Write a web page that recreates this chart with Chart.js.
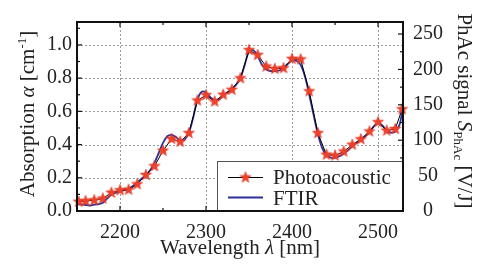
<!DOCTYPE html>
<html lang="en">
<head>
<meta charset="UTF-8" />
<title>Photoacoustic vs FTIR absorption</title>
<script src="https://cdn.jsdelivr.net/npm/chart.js"></script>
<style>
  html, body { margin: 0; padding: 0; background: #fff; }
  #wrap { width: 478px; height: 270px; }
</style>
</head>
<body>
<div id="wrap"><canvas id="spec" width="478" height="270"></canvas></div>
<script>
  // photoacoustic points (stars)
  const paWavelength = [2152, 2160, 2170, 2180, 2190, 2200, 2210, 2220, 2230, 2240,
    2250, 2260, 2270, 2280, 2290, 2300, 2310, 2320, 2330, 2340,
    2350, 2360, 2370, 2380, 2390, 2400, 2410, 2420, 2430, 2440,
    2450, 2460, 2470, 2480, 2490, 2500, 2510, 2520, 2528];
  const paAbsorption = [0.056, 0.060, 0.065, 0.075, 0.110, 0.125, 0.128, 0.161, 0.217, 0.270,
    0.363, 0.434, 0.417, 0.469, 0.665, 0.698, 0.659, 0.700, 0.730, 0.799,
    0.969, 0.939, 0.870, 0.856, 0.860, 0.916, 0.913, 0.721, 0.469, 0.339,
    0.334, 0.358, 0.399, 0.432, 0.479, 0.535, 0.484, 0.494, 0.613];

  // FTIR curve, sampled every 5 nm
  const ftirWavelength = [2150, 2155, 2160, 2165, 2170, 2175, 2180, 2185, 2190, 2195,
    2200, 2205, 2210, 2215, 2220, 2225, 2230, 2235, 2240, 2245,
    2250, 2255, 2260, 2265, 2270, 2275, 2280, 2285, 2290, 2295,
    2300, 2305, 2310, 2315, 2320, 2325, 2330, 2335, 2340, 2345,
    2350, 2355, 2360, 2365, 2370, 2375, 2380, 2385, 2390, 2395,
    2400, 2405, 2410, 2415, 2420, 2425, 2430, 2435, 2440, 2445,
    2450, 2455, 2460, 2465, 2470, 2475, 2480, 2485, 2490, 2495,
    2500, 2505, 2510, 2515, 2520, 2525, 2529];
  const ftirAbsorption = [0.040, 0.040, 0.036, 0.033, 0.038, 0.042, 0.050, 0.075, 0.100, 0.110,
    0.118, 0.125, 0.135, 0.150, 0.172, 0.195, 0.215, 0.245, 0.290, 0.350,
    0.410, 0.450, 0.458, 0.445, 0.425, 0.430, 0.470, 0.560, 0.670, 0.718,
    0.712, 0.685, 0.668, 0.672, 0.695, 0.715, 0.735, 0.760, 0.800, 0.880,
    0.960, 0.968, 0.935, 0.880, 0.852, 0.843, 0.842, 0.846, 0.860, 0.885,
    0.905, 0.905, 0.880, 0.810, 0.700, 0.580, 0.465, 0.380, 0.335, 0.322,
    0.320, 0.330, 0.345, 0.365, 0.390, 0.410, 0.430, 0.450, 0.475, 0.510,
    0.530, 0.515, 0.485, 0.472, 0.478, 0.520, 0.625];

  const xTicks = [2200, 2300, 2400, 2500];
  const leftTicks = [0.0, 0.2, 0.4, 0.6, 0.8, 1.0];
  const rightTicks = [0, 50, 100, 150, 200, 250];

  const SERIF = "'Liberation Serif', 'Times New Roman', Times, Tinos, 'Nimbus Roman', 'Noto Serif', 'DejaVu Serif', serif";
  const INK = '#222';
  const BLUE = '#2f2f98';
  const RED = '#f0412b';

  // filled five point star used as the marker
  function makeStar(r) {
    const c = document.createElement('canvas');
    const s = Math.ceil(r * 2 + 2);
    c.width = s; c.height = s;
    const g = c.getContext('2d');
    g.beginPath();
    for (let i = 0; i < 10; i++) {
      const rad = i % 2 === 0 ? r : r * 0.42;
      const a = -Math.PI / 2 + i * Math.PI / 5;
      const px = s / 2 + rad * Math.cos(a), py = s / 2 + rad * Math.sin(a);
      if (i === 0) g.moveTo(px, py); else g.lineTo(px, py);
    }
    g.closePath();
    g.fillStyle = RED;
    g.fill();
    g.strokeStyle = '#d63220';
    g.lineWidth = 0.6;
    g.stroke();
    return c;
  }
  const star = makeStar(5.8);

  // draw a row of text pieces with different fonts / offsets
  function drawRuns(ctx, runs, x, y) {
    let w = 0;
    runs.forEach(r => { ctx.font = r.font; r.w = ctx.measureText(r.text).width; w += r.w; });
    let cx = x - w / 2;
    runs.forEach(r => {
      ctx.font = r.font;
      ctx.fillText(r.text, cx, y + (r.dy || 0));
      cx += r.w;
    });
  }

  const frame = {
    id: 'frame',
    beforeDatasetsDraw(chart) {
      const { ctx, chartArea: a, scales } = chart;
      ctx.save();
      ctx.strokeStyle = '#9a9a9a';
      ctx.lineWidth = 1;
      ctx.setLineDash([2, 2]);
      xTicks.forEach(v => {
        const px = Math.round(scales.x.getPixelForValue(v)) + 0.5;
        ctx.beginPath(); ctx.moveTo(px, a.top); ctx.lineTo(px, a.bottom); ctx.stroke();
      });
      leftTicks.forEach(v => {
        if (v === 0) return;
        const py = Math.round(scales.y.getPixelForValue(v)) + 0.5;
        ctx.beginPath(); ctx.moveTo(a.left, py); ctx.lineTo(a.right, py); ctx.stroke();
      });
      ctx.restore();
    },
    afterDatasetsDraw(chart) {
      const { ctx, chartArea: a, scales } = chart;
      ctx.save();
      ctx.setLineDash([]);
      ctx.strokeStyle = '#111';

      // inward tick marks
      ctx.lineWidth = 1.2;
      const tickX = (v, len) => {
        const px = scales.x.getPixelForValue(v);
        ctx.beginPath();
        ctx.moveTo(px, a.bottom); ctx.lineTo(px, a.bottom - len);
        ctx.moveTo(px, a.top); ctx.lineTo(px, a.top + len);
        ctx.stroke();
      };
      xTicks.forEach(v => tickX(v, 5));
      xTicks.forEach(v => tickX(v - 50, 3));
      leftTicks.forEach(v => {
        [v, v + 0.1].forEach((t, i) => {
          const py = scales.y.getPixelForValue(t);
          if (py < a.top) return;
          ctx.beginPath(); ctx.moveTo(a.left, py); ctx.lineTo(a.left + (i ? 3 : 5), py); ctx.stroke();
        });
      });
      rightTicks.forEach(v => {
        [v, v + 25].forEach((t, i) => {
          const py = scales.y2.getPixelForValue(t);
          if (py < a.top) return;
          ctx.beginPath(); ctx.moveTo(a.right, py); ctx.lineTo(a.right - (i ? 3 : 5), py); ctx.stroke();
        });
      });

      // legend box
      const lx = 217, ly = 161, lw = a.right - lx, lh = a.bottom - ly;
      ctx.fillStyle = '#fff';
      ctx.fillRect(lx, ly, lw, lh);
      ctx.strokeStyle = '#555';
      ctx.lineWidth = 1;
      ctx.strokeRect(lx + 0.5, ly + 0.5, lw, lh);
      ctx.strokeStyle = '#000';
      ctx.lineWidth = 1;
      ctx.beginPath(); ctx.moveTo(228, 177.5); ctx.lineTo(263, 177.5); ctx.stroke();
      ctx.drawImage(star, 245.5 - star.width / 2, 177.5 - star.height / 2);
      ctx.strokeStyle = BLUE;
      ctx.lineWidth = 2.2;
      ctx.beginPath(); ctx.moveTo(228, 197.5); ctx.lineTo(263, 197.5); ctx.stroke();
      ctx.fillStyle = INK;
      ctx.font = '21px ' + SERIF;
      ctx.textBaseline = 'alphabetic';
      ctx.textAlign = 'left';
      ctx.fillText('Photoacoustic', 273, 184);
      ctx.fillText('FTIR', 273, 204.5);

      // plot frame
      ctx.strokeStyle = '#111';
      ctx.lineWidth = 2;
      ctx.strokeRect(a.left, a.top, a.right - a.left, a.bottom - a.top);

      // axis titles
      const norm = '21px ' + SERIF, ital = 'italic 21px ' + SERIF, small = '13px ' + SERIF;
      ctx.fillStyle = INK;
      drawRuns(ctx, [
        { text: 'Wavelength ', font: norm },
        { text: 'λ', font: ital },
        { text: ' [nm]', font: norm }
      ], (a.left + a.right) / 2, 254);

      ctx.save();
      ctx.translate(34, 114);
      ctx.rotate(-Math.PI / 2);
      drawRuns(ctx, [
        { text: 'Absorption ', font: norm },
        { text: 'α', font: ital },
        { text: ' [cm', font: norm },
        { text: '-1', font: small, dy: -8 },
        { text: ']', font: norm }
      ], 0, 0);
      ctx.restore();

      ctx.save();
      ctx.translate(458, 111);
      ctx.rotate(Math.PI / 2);
      drawRuns(ctx, [
        { text: 'PhAc signal ', font: norm },
        { text: 'S', font: ital },
        { text: 'PhAc', font: small, dy: 4 },
        { text: ' [V/J]', font: norm }
      ], 0, 0);
      ctx.restore();

      ctx.restore();
    }
  };

  const tickFont = { family: SERIF, size: 20 };

  new Chart(document.getElementById('spec'), {
    type: 'line',
    data: {
      datasets: [
        {
          label: 'Photoacoustic',
          data: paWavelength.map((w, i) => ({ x: w, y: paAbsorption[i] })),
          borderColor: '#000',
          borderWidth: 1,
          tension: 0,
          pointStyle: star,
          pointRadius: 6,
          clip: false
        },
        {
          label: 'FTIR',
          data: ftirWavelength.map((w, i) => ({ x: w, y: ftirAbsorption[i] })),
          borderColor: BLUE,
          borderWidth: 1.8,
          tension: 0.35,
          pointRadius: 0
        }
      ]
    },
    options: {
      responsive: false,
      animation: false,
      layout: { padding: { top: 7, left: 0, right: 0, bottom: 0 } },
      plugins: { legend: { display: false }, tooltip: { enabled: false } },
      scales: {
        x: {
          type: 'linear',
          min: 2150,
          max: 2529,
          afterBuildTicks: s => { s.ticks = xTicks.map(v => ({ value: v })); },
          afterFit: s => { s.height = 59; },
          grid: { display: false, drawTicks: false },
          border: { display: false },
          ticks: { font: tickFont, color: INK, padding: 10, maxRotation: 0, callback: v => String(v) }
        },
        y: {
          type: 'linear',
          position: 'left',
          min: 0,
          max: 1.138,
          afterBuildTicks: s => { s.ticks = leftTicks.map(v => ({ value: v })); },
          afterFit: s => { s.width = 77; },
          grid: { display: false, drawTicks: false },
          border: { display: false },
          ticks: { font: tickFont, color: INK, padding: 5, callback: v => v.toFixed(1) }
        },
        y2: {
          type: 'linear',
          position: 'right',
          min: 0,
          max: 267,
          afterBuildTicks: s => { s.ticks = rightTicks.map(v => ({ value: v })); },
          afterFit: s => { s.width = 75; },
          grid: { display: false, drawTicks: false },
          border: { display: false },
          ticks: { font: tickFont, color: INK, padding: 10, crossAlign: 'center', callback: v => String(v) }
        }
      }
    },
    plugins: [frame]
  });
</script>
</body>
</html>
